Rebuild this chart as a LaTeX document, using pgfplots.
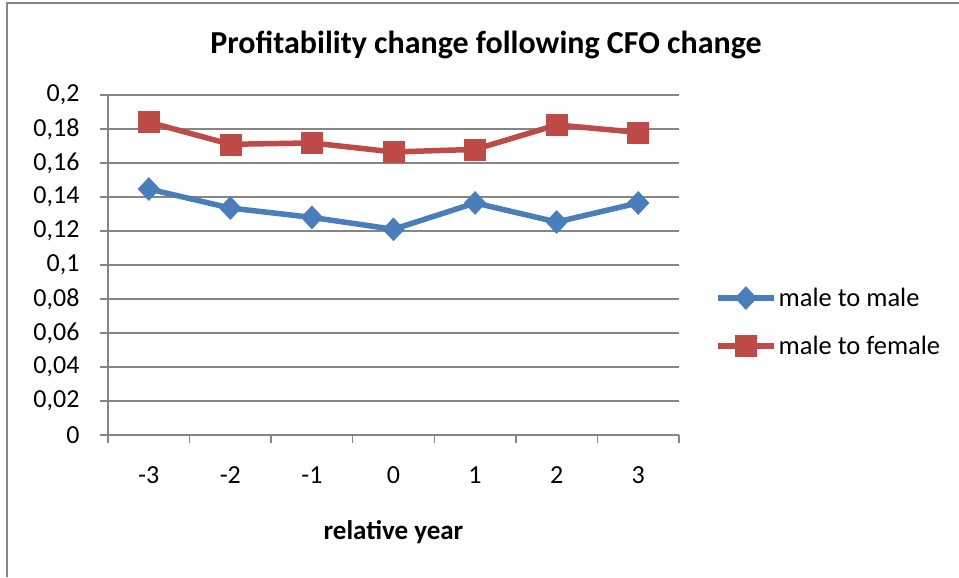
\documentclass[border=0pt]{standalone}
\usepackage{pgfplots}
\pgfplotsset{compat=1.18}
\usepackage{fontspec}
\setmainfont{Carlito}
\definecolor{gridgray}{HTML}{868686}
\definecolor{sblue}{HTML}{4A7EBB}
\definecolor{sred}{HTML}{BE4B48}
\begin{document}
\begin{tikzpicture}
\begin{axis}[
  scale only axis, width=571pt, height=340pt,
  xmin=-0.5, xmax=6.5, ymin=0, ymax=0.2,
  axis x line*=bottom, axis y line*=left,
  axis line style={gridgray, line width=1.5pt, -},
  xtick={0,1,2,3,4,5,6},
  xticklabels={-3,-2,-1,0,1,2,3},
  major x tick style={draw=none},
  minor xtick={-0.5,0.5,1.5,2.5,3.5,4.5,5.5,6.5},
  minor tick length=8pt,
  minor x tick style={gridgray, line width=1.5pt},
  ytick={0,0.02,0.04,0.06,0.08,0.1,0.12,0.14,0.16,0.18,0.2},
  yticklabels={0,{0,02},{0,04},{0,06},{0,08},{0,1},{0,12},{0,14},{0,16},{0,18},{0,2}},
  major tick length=8pt,
  tick align=outside,
  y tick style={gridgray, line width=1.5pt},
  ymajorgrids, grid style={gridgray, line width=1.5pt},
  tick label style={font=\fontsize{26}{30}\selectfont},
  yticklabel style={xshift=-17pt},
  xticklabel style={yshift=-20pt},
  xlabel={relative year},
  xlabel style={font=\fontsize{27}{31}\selectfont\bfseries, yshift=-30pt},
  legend style={at={(axis description cs:1.0630,0.332353)}, anchor=west,
    draw=none, fill=none, font=\fontsize{26.5}{30}\selectfont, row sep=24pt,
    inner sep=0pt, legend cell align=left},
  legend image code/.code={
    \draw[#1, mark=none] (0pt,0pt) -- (56pt,0pt);
    \path[#1] plot coordinates {(28pt,0pt)};
  },
  every axis plot/.append style={line width=5.5pt},
  clip=false,
]
\path[use as bounding box] (rel axis cs:-0.189142,-0.417647) rectangle (rel axis cs:1.490368,1.279412);
\draw[gridgray, line width=2.5pt] (rel axis cs:-0.176883,-0.417647) -- (rel axis cs:-0.176883,1.270588) -- (rel axis cs:1.490368,1.270588);
\node[font=\fontsize{32}{37}\selectfont\bfseries] at (rel axis cs:0.662,1.147059) {Profitability change following CFO change};
\addplot[sblue, mark=diamond*, mark size=11.5pt, mark options={solid, line width=0.5pt, xscale=1.25}] coordinates {
(0,0.1447) (1,0.1335) (2,0.128) (3,0.121) (4,0.1365) (5,0.1253) (6,0.1365)};
\addlegendentry{male to male}
\addplot[sred, mark=square*, mark size=10.5pt, mark options={solid, line width=0.5pt}] coordinates {
(0,0.184) (1,0.171) (2,0.1718) (3,0.1665) (4,0.168) (5,0.1824) (6,0.178)};
\addlegendentry{male to female}
\end{axis}
\end{tikzpicture}
\end{document}
